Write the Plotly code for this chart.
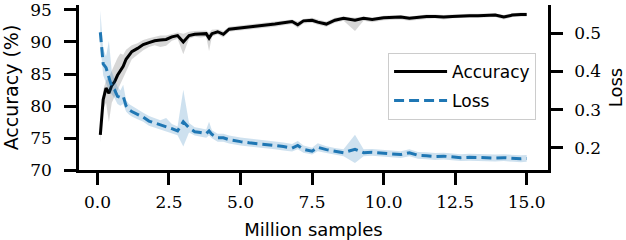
import plotly.graph_objects as go

samples = [0.1,0.2,0.3,0.4,0.5,0.6,0.7,0.8,0.9,1.0,1.1,1.2,1.4,1.6,1.8,2.0,2.2,2.4,2.6,2.8,
           3.0,3.2,3.4,3.6,3.8,3.9,4.0,4.2,4.4,4.6,4.8,5.0,5.3,5.6,5.9,6.2,6.5,6.8,7.0,7.2,
           7.5,7.7,8.0,8.3,8.6,9.0,9.3,9.6,10.0,10.3,10.6,10.9,11.2,11.5,11.8,12.1,12.4,12.7,
           13.0,13.3,13.6,13.9,14.2,14.5,14.8,15.0]

acc_mean = [75.5,81.0,82.8,82.0,83.2,83.8,84.8,85.6,86.2,87.3,88.0,88.5,89.0,89.6,89.9,90.2,90.3,90.4,90.8,91.0,
            90.0,91.0,91.2,91.2,91.3,90.6,91.3,91.6,91.2,92.0,92.1,92.2,92.3,92.4,92.6,92.8,93.0,93.2,92.7,93.3,
            93.4,93.1,92.8,93.4,93.7,93.4,93.7,93.5,93.8,93.8,93.9,93.7,93.9,94.0,94.0,93.9,94.0,94.1,
            94.1,94.1,94.2,94.2,93.9,94.2,94.3,94.3]
acc_low = [74.3,79.5,80.5,77.5,80.5,81.5,82.5,83.5,84.5,85.5,86.5,87.3,88.0,88.7,89.2,89.5,89.2,89.4,90.2,90.5,
           88.1,90.5,90.8,90.7,90.8,88.6,90.8,91.2,90.7,91.6,91.7,91.8,91.9,92.0,92.2,92.4,92.6,92.8,92.2,92.9,
           93.0,92.7,92.4,93.0,93.3,91.7,93.3,93.1,93.4,93.4,93.5,93.3,93.5,93.6,93.7,93.5,93.7,93.8,
           93.8,93.8,93.9,93.9,93.5,93.9,94.0,94.0]
acc_high = [76.2,82.5,84.0,84.5,85.5,86.5,87.5,88.2,88.0,88.8,89.2,89.5,89.8,90.3,90.6,90.8,91.0,91.0,91.3,91.5,
            91.3,91.6,91.7,91.7,91.8,91.4,91.9,92.0,91.7,92.4,92.5,92.6,92.7,92.8,93.0,93.2,93.3,93.5,93.2,93.6,
            93.8,93.5,93.2,93.8,94.0,93.8,94.0,93.8,94.1,94.1,94.2,94.0,94.2,94.3,94.3,94.2,94.3,94.4,
            94.4,94.4,94.5,94.5,94.2,94.5,94.6,94.6]

loss_mean = [0.503,0.42,0.41,0.385,0.36,0.352,0.335,0.332,0.335,0.31,0.30,0.295,0.288,0.28,0.27,0.265,0.262,0.256,0.25,0.244,
             0.268,0.252,0.242,0.24,0.237,0.244,0.235,0.226,0.226,0.221,0.218,0.216,0.213,0.211,0.209,0.206,0.203,0.199,0.206,0.196,
             0.191,0.201,0.195,0.19,0.187,0.196,0.187,0.188,0.186,0.183,0.182,0.187,0.18,0.179,0.177,0.178,0.176,0.174,
             0.175,0.174,0.174,0.173,0.174,0.172,0.171,0.172]
loss_low = [0.47,0.39,0.37,0.35,0.34,0.33,0.315,0.31,0.315,0.295,0.287,0.282,0.275,0.268,0.258,0.253,0.25,0.245,0.24,0.233,
            0.203,0.24,0.232,0.229,0.226,0.232,0.225,0.216,0.216,0.211,0.208,0.206,0.203,0.201,0.199,0.196,0.193,0.19,0.196,0.187,
            0.182,0.191,0.186,0.181,0.178,0.16,0.178,0.179,0.177,0.174,0.173,0.178,0.171,0.17,0.168,0.169,0.167,0.165,
            0.166,0.165,0.165,0.164,0.165,0.163,0.162,0.163]
loss_high = [0.56,0.46,0.44,0.48,0.40,0.38,0.36,0.35,0.365,0.325,0.315,0.31,0.30,0.292,0.283,0.278,0.272,0.278,0.262,0.256,
             0.352,0.265,0.254,0.251,0.248,0.268,0.246,0.237,0.237,0.232,0.229,0.227,0.224,0.222,0.22,0.217,0.214,0.21,0.218,0.206,
             0.2,0.212,0.204,0.199,0.196,0.234,0.196,0.197,0.195,0.192,0.191,0.196,0.189,0.188,0.186,0.187,0.185,0.183,
             0.184,0.183,0.183,0.182,0.183,0.181,0.18,0.181]

x_ticks = [0, 2.5, 5, 7.5, 10, 12.5, 15]
acc_ticks = [70, 75, 80, 85, 90, 95]
loss_ticks = [0.2, 0.3, 0.4, 0.5]

GRAY = "rgba(160,160,160,0.42)"
LBLUE = "rgba(31,119,180,0.22)"
BLUE = "#1f77b4"
SERIF = "DejaVu Serif"
SANS = "DejaVu Sans"

fig = go.Figure()
# accuracy band
fig.add_trace(go.Scatter(x=samples, y=acc_low, mode="lines", line=dict(width=0),
                         showlegend=False, hoverinfo="skip", yaxis="y", legendgroup="acc"))
fig.add_trace(go.Scatter(x=samples, y=acc_high, mode="lines", line=dict(width=0), fill="tonexty",
                         fillcolor=GRAY, showlegend=False, hoverinfo="skip", yaxis="y", legendgroup="acc"))
fig.add_trace(go.Scatter(x=samples, y=acc_mean, mode="lines", name="Accuracy", legendgroup="acc",
                         line=dict(color="black", width=3), yaxis="y"))
# loss band
fig.add_trace(go.Scatter(x=samples, y=loss_low, mode="lines", line=dict(width=0),
                         showlegend=False, hoverinfo="skip", yaxis="y2", legendgroup="loss"))
fig.add_trace(go.Scatter(x=samples, y=loss_high, mode="lines", line=dict(width=0), fill="tonexty",
                         fillcolor=LBLUE, showlegend=False, hoverinfo="skip", yaxis="y2", legendgroup="loss"))
fig.add_trace(go.Scatter(x=samples, y=loss_mean, mode="lines", name="Loss", legendgroup="loss",
                         line=dict(color=BLUE, width=3, dash="10px,5px"), yaxis="y2"))

axis_common = dict(showline=True, linecolor="black", linewidth=2.5, ticks="outside",
                   ticklen=12, tickwidth=2.5, tickcolor="black", showgrid=False, zeroline=False,
                   ticklabeloverflow="allow", automargin=False,
                   tickfont=dict(family=SERIF, size=17, color="black"))

fig.update_layout(
    width=626, height=240,
    margin=dict(l=79, r=78, t=5, b=70, autoexpand=False),
    plot_bgcolor="white", paper_bgcolor="white",
    xaxis=dict(range=[-0.645, 15.745], tickvals=x_ticks, ticktext=[f"{v:.1f}" for v in x_ticks],
               title=dict(text="Million samples", font=dict(family=SANS, size=18, color="black"), standoff=15),
               ticklabelstandoff=3, **axis_common),
    yaxis=dict(range=[70, 95.78], tickvals=acc_ticks, ticktext=[str(v) for v in acc_ticks],
               title=dict(text="Accuracy (%)", font=dict(family=SANS, size=19, color="black"), standoff=11),
               ticklabelstandoff=9, **axis_common),
    yaxis2=dict(range=[0.1416, 0.5745], overlaying="y", side="right", tickvals=loss_ticks,
                ticktext=[f"{v:.1f}" for v in loss_ticks],
                title=dict(text="Loss", font=dict(family=SANS, size=18, color="black"), standoff=17),
                ticklabelstandoff=8, **axis_common),
    legend=dict(x=0.659, y=0.71, xanchor="left", yanchor="top", bgcolor="rgba(255,255,255,0.8)",
                bordercolor="#cccccc", borderwidth=1, font=dict(family=SANS, size=17, color="black"),
                itemwidth=53, tracegroupgap=4, traceorder="grouped"),
    showlegend=True,
)

fig.write_html("out.html", config={"displayModeBar": False},
               post_script="document.body.style.margin='0';")
